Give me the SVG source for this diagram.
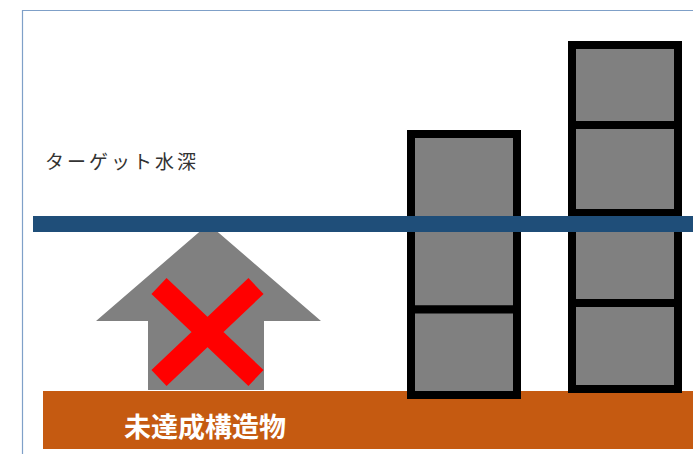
<svg xmlns="http://www.w3.org/2000/svg" width="693" height="454" viewBox="0 0 693 454">
<style>
.blk{fill:#808080;stroke:#000;stroke-width:8}
.lbl{font-family:"Noto Sans CJK JP","Noto Sans",sans-serif}
</style>
<rect x="0" y="0" width="693" height="454" fill="#fff"/>
<g id="frame"><path d="M22.5,454 V10.5 H693" fill="none" stroke="#7FA0C8" stroke-width="1.2"/></g>
<g id="structure">
<rect x="43" y="391" width="650" height="58" fill="#C55A11"/>
<text class="lbl" x="205" y="437" font-size="27" font-weight="bold" fill="#fff" text-anchor="middle">未達成構造物</text>
</g>
<g id="column1">
<rect class="blk" x="411" y="134" width="106" height="175.5"/>
<rect class="blk" x="411" y="309.5" width="106" height="85.5"/>
</g>
<g id="column2">
<rect class="blk" x="572" y="45" width="106" height="80"/>
<rect class="blk" x="572" y="125" width="106" height="88"/>
<rect class="blk" x="572" y="213" width="106" height="90"/>
<rect class="blk" x="572" y="303" width="106" height="86"/>
</g>
<g id="arrow">
<polygon points="208.5,224 321,321 264,321 264,390 148,390 148,321 96,321" fill="#808080"/>
</g>
<g id="target-depth">
<rect x="33" y="216" width="660" height="16" fill="#1F4E79"/>
<text class="lbl" x="45" y="169" font-size="19" letter-spacing="3" fill="#333">ターゲット水深</text>
</g>
<g id="cross">
<path d="M159,286 L256,378 M256,286 L159,378" stroke="#FF0000" stroke-width="22" fill="none"/>
</g>
</svg>
